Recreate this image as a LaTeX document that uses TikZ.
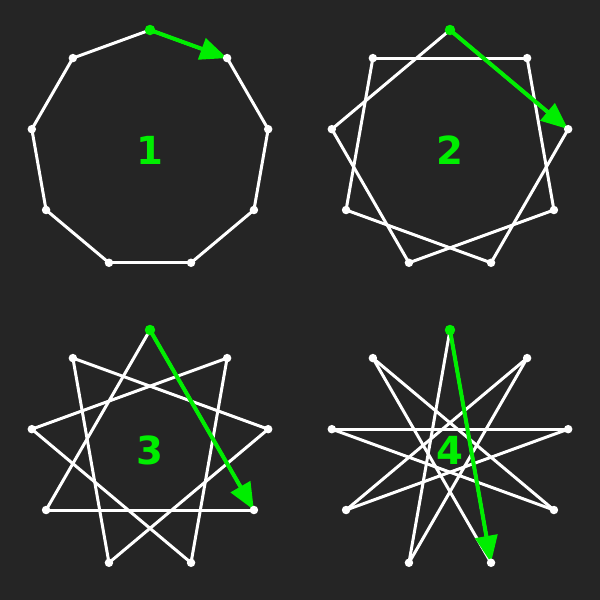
\documentclass[tikz,border=0pt]{standalone}
\usepackage{fontspec}
\setsansfont{DejaVu Sans}
\usetikzlibrary{arrows.meta}
\definecolor{bg}{HTML}{252525}
\definecolor{hl}{HTML}{00EE00}
\begin{document}
\begin{tikzpicture}[x=0.02cm,y=-0.02cm,
  edge/.style={white,line width=0.06cm,line cap=round},
  arr/.style={hl,line width=0.08cm,line cap=round,-{Triangle[length=0.54cm,width=0.44cm]}},
  wdot/.style={circle,fill=white,inner sep=0pt,minimum size=0.17cm},
  gdot/.style={circle,fill=hl,inner sep=0pt,minimum size=0.21cm},
  lbl/.style={text=hl,font=\sffamily\bfseries\fontsize{22}{24}\selectfont,inner sep=0pt}]
\fill[bg] (0,0) rectangle (600,600);
\useasboundingbox (0,0) rectangle (600,600);
\foreach \m/\cx/\cy in {1/150/150,2/450/150,3/150/450,4/450/450}{
  \foreach \k in {0,...,8}{
    \coordinate (v\m-\k) at ({\cx+120*cos(90-40*\k)},{\cy-120*sin(90-40*\k)});
  }
  \foreach \k in {0,...,8}{
    \pgfmathtruncatemacro\j{mod(\k+\m,9)}
    \draw[edge] (v\m-\k) -- (v\m-\j);
  }
  \draw[arr] (v\m-0) -- (v\m-\m);
  \foreach \k in {1,...,8}{
    \node[wdot] (d\m-\k) at (v\m-\k) {};
  }
  \node[gdot] (d\m-0) at (v\m-0) {};
  \node[lbl] (n\m) at (\cx,\cy) {\m};
}
\end{tikzpicture}
\end{document}
